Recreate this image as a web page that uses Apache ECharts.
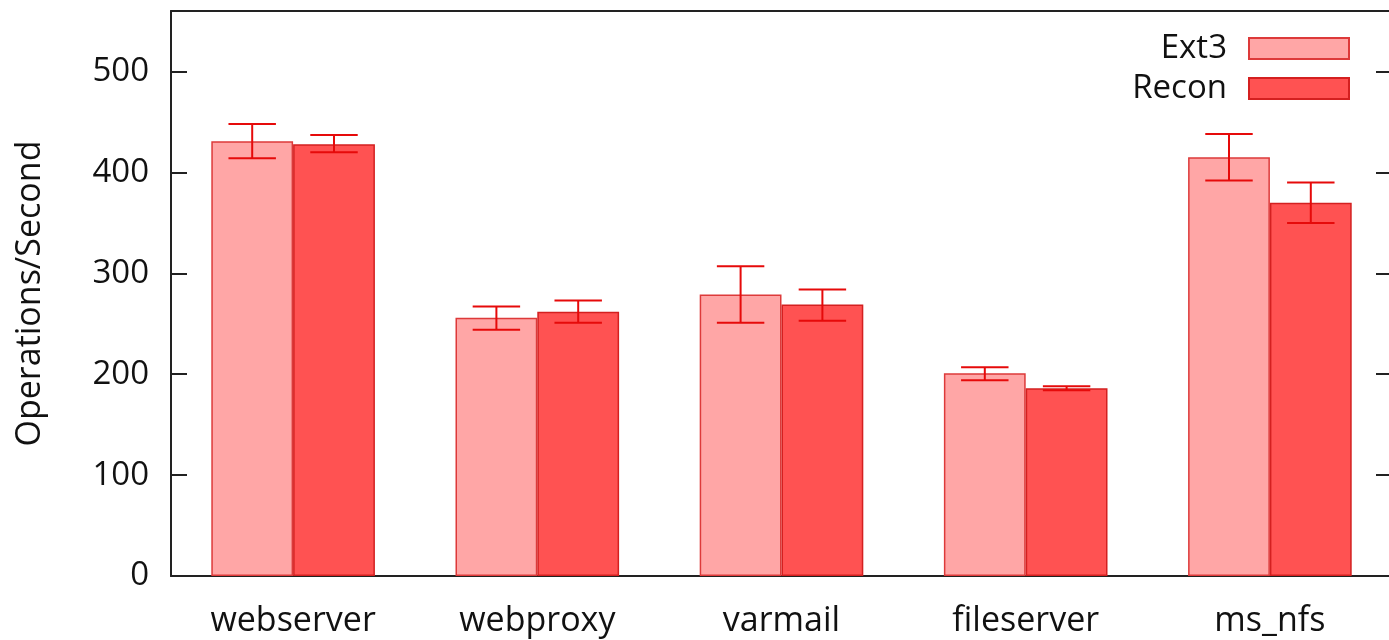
<!DOCTYPE html>
<html>
<head>
<meta charset="utf-8">
<script src="https://cdn.jsdelivr.net/npm/echarts@6/dist/echarts.min.js"></script>
<style>html,body{margin:0;padding:0;background:#fff}#c{width:1389px;height:640px}</style>
</head>
<body>
<div id="c"></div>
<script>
var categories = ['webserver', 'webproxy', 'varmail', 'fileserver', 'ms_nfs'];
var seriesNames = ['Ext3', 'Recon'];
var ext3Values = [431, 256, 279, 201, 415];
var ext3Low = [414, 244, 251, 194, 392];
var ext3High = [448, 267, 307, 207, 438];
var reconValues = [428, 262, 269, 186, 370];
var reconLow = [420, 251, 253, 184, 350];
var reconHigh = [437, 273, 284, 188, 390];
var yTicks = [0, 100, 200, 300, 400, 500];

var FONT = '"Open Sans", "Noto Sans", sans-serif';
var chart = echarts.init(document.getElementById('c'));

function errSeries(name, low, high, side) {
  return {
    type: 'custom',
    name: name + ' err',
    z: 10,
    silent: true,
    data: categories.map(function (c, i) { return [i, low[i], high[i]]; }),
    renderItem: function (params, api) {
      var band = api.size([1, 0])[0];
      var barW = band * 0.335;
      var cx = api.coord([api.value(0), 0])[0] + side * barW / 2;
      var yl = api.coord([api.value(0), api.value(1)])[1];
      var yh = api.coord([api.value(0), api.value(2)])[1];
      var hw = barW * 0.29;
      var st = { stroke: '#e60a0a', lineWidth: 2 };
      return {
        type: 'group',
        children: [
          { type: 'line', shape: { x1: cx, y1: yl, x2: cx, y2: yh }, style: st },
          { type: 'line', shape: { x1: cx - hw, y1: yl, x2: cx + hw, y2: yl }, style: st },
          { type: 'line', shape: { x1: cx - hw, y1: yh, x2: cx + hw, y2: yh }, style: st }
        ]
      };
    }
  };
}

chart.setOption({
  animation: false,
  grid: { left: 171, width: 1221, top: 11, height: 565, show: false, outerBoundsMode: 'none', containLabel: false },
  legend: {
    data: seriesNames,
    orient: 'vertical',
    right: 34,
    top: 27,
    align: 'right',
    icon: 'rect',
    itemWidth: 100,
    itemHeight: 21,
    itemGap: 7,
    textStyle: { fontFamily: FONT, fontSize: 33, color: '#111', lineHeight: 33, padding: [0, 17, 0, 0] }
  },
  xAxis: [{
    type: 'category',
    data: categories,
    axisLine: { show: true, onZero: false, lineStyle: { color: '#222', width: 2 } },
    axisTick: { show: false },
    axisLabel: { fontFamily: FONT, fontSize: 34, color: '#111', margin: 28 }
  }, {
    type: 'category',
    position: 'top',
    data: categories,
    axisLine: { show: true, onZero: false, lineStyle: { color: '#222', width: 2 } },
    axisTick: { show: false },
    axisLabel: { show: false }
  }],
  yAxis: [{
    type: 'value',
    min: 0, max: 560, interval: 100,
    name: 'Operations/Second',
    nameLocation: 'middle',
    nameGap: 124,
    nameTextStyle: { fontFamily: FONT, fontSize: 34, color: '#111' },
    axisLine: { show: true, onZero: false, lineStyle: { color: '#222', width: 2 } },
    axisTick: { show: true, inside: true, length: 16, lineStyle: { color: '#222', width: 2 } },
    axisLabel: { fontFamily: FONT, fontSize: 33, color: '#111', margin: 22, showMaxLabel: false },
    splitLine: { show: false }
  }, {
    type: 'value',
    position: 'right',
    min: 0, max: 560, interval: 100,
    axisLine: { show: false },
    axisTick: { show: true, inside: true, length: 16, lineStyle: { color: '#222', width: 2 } },
    axisLabel: { show: false },
    splitLine: { show: false }
  }],
  series: [{
    name: 'Ext3',
    type: 'bar',
    data: ext3Values,
    barGap: '0%',
    barCategoryGap: '33%',
    itemStyle: { color: '#ffa6a6', borderColor: '#dd3a3a', borderWidth: 1.5 }
  }, {
    name: 'Recon',
    type: 'bar',
    data: reconValues,
    barGap: '0%',
    barCategoryGap: '33%',
    itemStyle: { color: '#ff5252', borderColor: '#d42020', borderWidth: 1.5 }
  },
  errSeries('Ext3', ext3Low, ext3High, -1),
  errSeries('Recon', reconLow, reconHigh, 1)]
});
</script>
</body>
</html>
